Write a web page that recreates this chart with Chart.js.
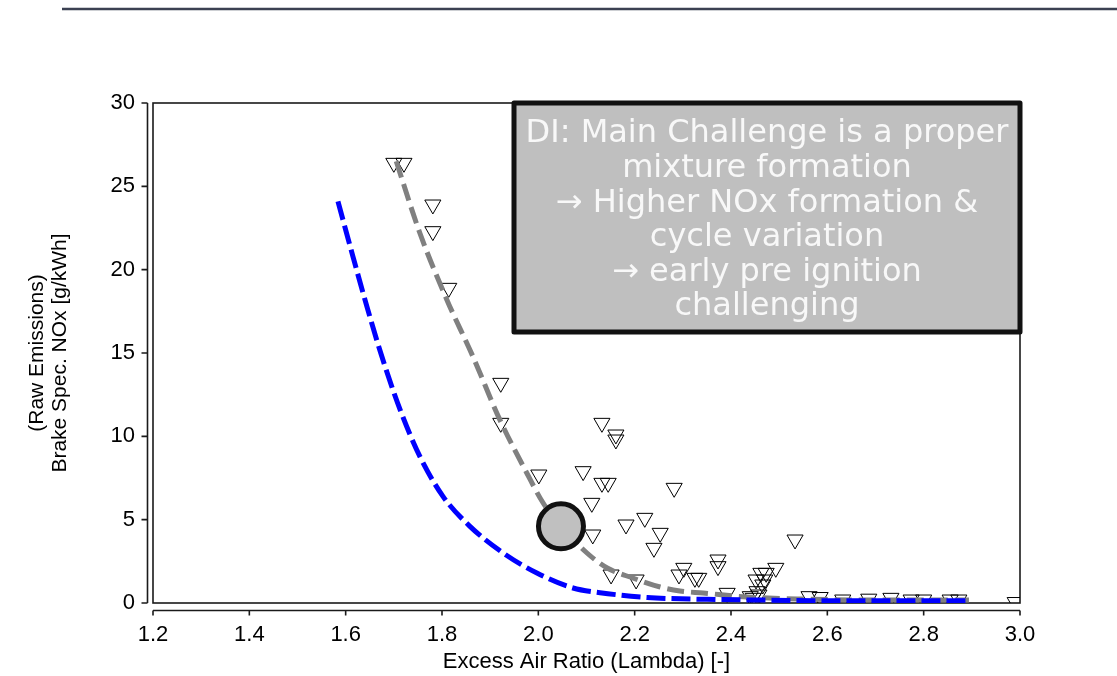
<!DOCTYPE html>
<html>
<head>
<meta charset="utf-8">
<script src="https://cdn.jsdelivr.net/npm/chart.js@4.4.1/dist/chart.umd.min.js"></script>
<style>
  body { margin: 0; background: #fff; }
  #wrap { width: 1117px; height: 676px; position: relative; }
</style>
</head>
<body>
<div id="wrap"><canvas id="nox"></canvas></div>
<script>
// measured points (downward triangles)
const triLambda = [1.700, 1.721, 1.781, 1.781, 1.814, 1.922, 1.922, 2.001, 2.093, 2.132,
  2.161, 2.161, 2.132, 2.145, 2.111, 2.113, 2.182, 2.221, 2.253, 2.240,
  2.282, 2.533, 2.151, 2.203, 2.292, 2.302, 2.325, 2.333, 2.373, 2.373,
  2.392, 2.462, 2.473, 2.452, 2.466, 2.454, 2.440, 2.493, 2.562, 2.585,
  2.632, 2.686, 2.732, 2.774, 2.800, 2.855, 2.873, 2.990, 2.446, 2.470, 2.458];
const triNOx = [26.4, 26.4, 23.9, 22.3, 18.9, 13.2, 10.8, 7.7, 7.9, 10.8,
  10.1, 9.8, 7.2, 7.2, 6.0, 4.1, 4.7, 5.1, 4.2, 3.3,
  6.9, 3.8, 1.7, 1.4, 1.7, 2.1, 1.5, 1.5, 2.6, 2.2,
  0.6, 1.8, 1.8, 1.4, 1.1, 0.7, 0.4, 2.1, 0.4, 0.35,
  0.2, 0.25, 0.3, 0.2, 0.2, 0.2, 0.2, 0.05, 0.3, 1.4, 0.5];

// grey dashed trend
const greyLambda = [1.705, 1.754, 1.810, 1.864, 1.920, 1.976, 2.010, 2.047, 2.101, 2.143,
  2.196, 2.253, 2.294, 2.342, 2.433, 2.543, 2.689, 2.894];
const greyNOx = [26.5, 22.2, 18.2, 14.8, 11.0, 7.8, 6.0, 4.6, 3.0, 2.1,
  1.5, 0.96, 0.72, 0.6, 0.36, 0.24, 0.18, 0.18];

// blue dashed trend
const blueLambda = [1.584, 1.615, 1.644, 1.675, 1.713, 1.754, 1.802, 1.858, 1.927, 1.997,
  2.072, 2.128, 2.226, 2.350, 2.450, 2.606, 2.750, 2.890];
const blueNOx = [24.1, 20.8, 17.8, 14.8, 11.6, 8.8, 6.4, 4.6, 3.0, 1.8,
  0.9, 0.62, 0.33, 0.22, 0.18, 0.14, 0.14, 0.14];

// highlighted operating point
const markLambda = [2.047];
const markNOx = [4.6];

const xTickValues = [1.2, 1.4, 1.6, 1.8, 2.0, 2.2, 2.4, 2.6, 2.8, 3.0];
const yTickValues = [0, 5, 10, 15, 20, 25, 30];

const boxLines = [
  "DI: Main Challenge is a proper",
  "mixture formation",
  "\u2192 Higher NOx formation &",
  "cycle variation",
  "\u2192 early pre ignition",
  "challenging"
];

function pts(xs, ys) {
  return xs.map((x, i) => ({ x: x, y: ys[i] }));
}

const axisFont = { family: "'Liberation Sans', Arial, sans-serif", size: 22 };

// plot frame, offset axis lines, top rule and text box
const decor = {
  id: "decor",
  beforeDatasetsDraw(chart) {
    const ctx = chart.ctx;
    const a = chart.chartArea;
    const xs = chart.scales.x;
    const ys = chart.scales.y;
    ctx.save();
    ctx.strokeStyle = "#1a1a1a";
    ctx.lineWidth = 1.6;
    ctx.strokeRect(a.left, a.top, a.right - a.left, a.bottom - a.top);

    // y axis, a little left of the frame
    const ax = a.left - 5.5;
    ctx.beginPath();
    ctx.moveTo(ax, a.top);
    ctx.lineTo(ax, a.bottom);
    for (const v of yTickValues) {
      const py = ys.getPixelForValue(v);
      ctx.moveTo(ax, py);
      ctx.lineTo(ax - 6, py);
    }
    // x axis, a little below the frame
    const ay = a.bottom + 7.5;
    ctx.moveTo(a.left, ay);
    ctx.lineTo(a.right, ay);
    for (const v of xTickValues) {
      const px = xs.getPixelForValue(v);
      ctx.moveTo(px, ay);
      ctx.lineTo(px, ay + 5);
    }
    ctx.stroke();

    // rule at the top of the slide
    ctx.strokeStyle = "#3b4152";
    ctx.lineWidth = 2.5;
    ctx.beginPath();
    ctx.moveTo(62, 9);
    ctx.lineTo(chart.width, 9);
    ctx.stroke();
    ctx.restore();
  },
  afterDatasetsDraw(chart) {
    const ctx = chart.ctx;
    const a = chart.chartArea;
    const bx = a.left + 361, by = a.top, bw = a.right - bx, bh = 229;
    ctx.save();
    ctx.fillStyle = "#bfbfbf";
    ctx.strokeStyle = "#111";
    ctx.lineWidth = 5;
    ctx.lineJoin = "round";
    ctx.beginPath();
    ctx.rect(bx, by, bw, bh);
    ctx.fill();
    ctx.stroke();
    ctx.fillStyle = "#f8f8f8";
    ctx.font = "32px 'DejaVu Sans', Verdana, sans-serif";
    ctx.textAlign = "center";
    ctx.textBaseline = "middle";
    boxLines.forEach((t, i) => {
      ctx.fillText(t, bx + bw / 2, by + 31 + i * 34.6);
    });
    ctx.restore();
  }
};

new Chart(document.getElementById("nox"), {
  type: "scatter",
  data: {
    datasets: [
      {
        label: "measured",
        data: pts(triLambda, triNOx),
        pointStyle: "triangle",
        rotation: 180,
        pointRadius: 9.3,
        borderColor: "#000",
        borderWidth: 1,
        backgroundColor: "rgba(0,0,0,0)",
        clip: 0,
        order: 4
      },
      {
        label: "trend grey",
        data: pts(greyLambda, greyNOx),
        showLine: true,
        borderColor: "#808080",
        borderWidth: 5,
        borderDash: [17, 7],
        borderCapStyle: "butt",
        cubicInterpolationMode: "monotone",
        pointRadius: 0,
        order: 3
      },
      {
        label: "trend blue",
        data: pts(blueLambda, blueNOx),
        showLine: true,
        borderColor: "#0000ff",
        borderWidth: 5,
        borderDash: [19, 6],
        borderCapStyle: "butt",
        cubicInterpolationMode: "monotone",
        pointRadius: 0,
        order: 2
      },
      {
        label: "point",
        data: pts(markLambda, markNOx),
        pointRadius: 22.5,
        pointStyle: "circle",
        backgroundColor: "#c0c0c0",
        borderColor: "#111",
        borderWidth: 5,
        order: 1
      }
    ]
  },
  options: {
    responsive: true,
    maintainAspectRatio: false,
    devicePixelRatio: 1,
    animation: false,
    layout: { padding: { top: 103, right: 97, left: 0, bottom: 0 } },
    plugins: {
      legend: { display: false },
      tooltip: { enabled: false }
    },
    scales: {
      x: {
        type: "linear",
        min: 1.2,
        max: 3.0,
        afterBuildTicks: s => { s.ticks = xTickValues.map(v => ({ value: v })); },
        afterFit: s => { s.height = 73; },
        grid: { display: false, drawTicks: false },
        border: { display: false },
        ticks: {
          color: "#000",
          font: axisFont,
          padding: 19,
          maxRotation: 0,
          callback: v => v.toFixed(1)
        },
        title: {
          display: true,
          text: "Excess Air Ratio (Lambda) [-]",
          color: "#000",
          font: axisFont,
          padding: { top: 0, bottom: 1 }
        }
      },
      y: {
        type: "linear",
        min: 0,
        max: 30,
        afterBuildTicks: s => { s.ticks = yTickValues.map(v => ({ value: v })); },
        afterFit: s => { s.width = 153; },
        grid: { display: false, drawTicks: false },
        border: { display: false },
        ticks: {
          color: "#000",
          font: axisFont,
          padding: 18
        },
        title: {
          display: true,
          text: ["(Raw Emissions)", "Brake Spec. NOx [g/kWh]"],
          color: "#000",
          font: { family: axisFont.family, size: 21, lineHeight: 1.1 },
          padding: { top: 26, bottom: 0 }
        }
      }
    }
  },
  plugins: [decor]
});
</script>
</body>
</html>
